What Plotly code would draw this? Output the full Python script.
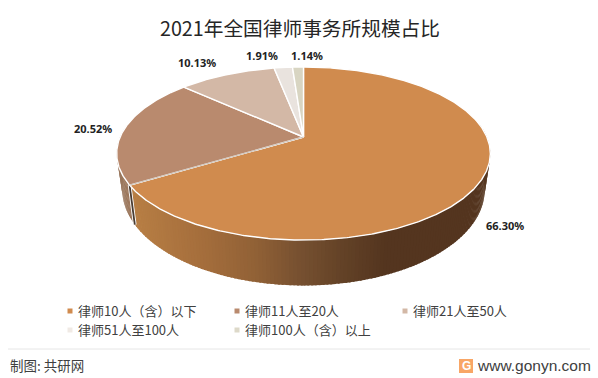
import numpy as np
import plotly.graph_objects as go

# ---- data ----
categories = ["律师10人（含）以下", "律师11人至20人", "律师21人至50人", "律师51人至100人", "律师100人（含）以上"]
shares = [66.30, 20.52, 10.13, 1.91, 1.14]
share_labels = ["66.30%", "20.52%", "10.13%", "1.91%", "1.14%"]

# ---- style ----
colors = ["#D08B4E", "#B98A6E", "#D3B8A6", "#E9E3DE", "#D8D5C2"]
legend_colors = ["#D08B4E", "#B98A6E", "#D3B8A6", "#F0EAE5", "#DDD9C9"]
label_pos = [(505, 225), (93, 128), (197, 62), (262, 55), (307, 55)]
legend_pos = [(70, 311), (237, 311), (405, 311), (70, 330), (237, 330)]
TEXT = "#404040"
CJK = "Noto Sans CJK SC"

# ---- projection of the tilted disc (perspective) ----
CX, Y0, A, B, K = 303.5, 137.0, 183.4, 83.4, 0.1907
S_BOT, Y0_BOT, B_BOT = 0.97, 171.3, 92.4


def top(theta):
    t = np.radians(theta)
    X, Y = np.sin(t), -np.cos(t)
    d = 1 - K * Y
    return CX + A * X / d, Y0 + B * Y / d


def bottom(theta):
    t = np.radians(theta)
    X, Y = np.sin(t), -np.cos(t)
    d = 1 - K * Y
    return CX + S_BOT * A * X / d, Y0_BOT + B_BOT * Y / d


def interp(x, stops):
    xs = [s[0] for s in stops]
    return tuple(int(round(np.interp(x, xs, [s[1][i] for s in stops]))) for i in range(3))


ORANGE_SIDE = [(133, (183, 126, 68)), (200, (165, 110, 60)), (255, (145, 97, 54)),
               (300, (118, 80, 48)), (345, (98, 65, 38)), (385, (84, 53, 31)), (490, (84, 53, 31))]
TAN_SIDE = [(118, (150, 116, 90)), (135, (164, 124, 94))]

total = sum(shares)
edges = np.concatenate([[0], np.cumsum(shares)]) / total * 360
fig = go.Figure()


def strip(a0, a1, a_over, stops):
    # a_over reaches past a1 so the next strip, painted later, closes any seam
    th = np.linspace(a0, a_over, 4)
    tx, ty = top(th)
    bx, by = bottom(th)
    r, g, b = interp((tx[0] + top(a1)[0]) / 2, stops)
    c = f"rgb({r},{g},{b})"
    fig.add_trace(go.Scatter(x=np.r_[tx, bx[::-1], tx[0]], y=np.r_[ty, by[::-1], ty[0]], mode="lines",
                             fill="toself", fillcolor=c, line=dict(width=0),
                             hoverinfo="skip", showlegend=False))


# side wall: back to front
b_edge = edges[1]
STEP = 1.0
for a in np.arange(280, b_edge, -STEP):
    end = max(a - STEP, b_edge)
    strip(a, end, max(end - 0.5, b_edge), TAN_SIDE)
for a in np.arange(80, 180, STEP):
    end = min(a + STEP, 180)
    strip(a - 0.5 if a > 80 else a, end, end, ORANGE_SIDE)
for a in np.arange(b_edge, 180, -STEP):
    end = max(a - STEP, 180)
    strip(a, end, end - 0.5, ORANGE_SIDE)

# cut between the first slice and the second
cx0, cy0 = top(b_edge)
cx1, cy1 = bottom(b_edge)
fig.add_trace(go.Scatter(x=[cx0, cx1], y=[cy0, cy1], mode="lines", line=dict(color="white", width=3.6),
                         hoverinfo="skip", showlegend=False))
fig.add_trace(go.Scatter(x=[cx0, cx1], y=[cy0, cy1], mode="lines", line=dict(color="#4A3C32", width=1.8),
                         hoverinfo="skip", showlegend=False))

# top face
for i, cat in enumerate(categories):
    th = np.linspace(edges[i], edges[i + 1], max(int(edges[i + 1] - edges[i]), 3) * 2)
    px, py = top(th)
    fig.add_trace(go.Scatter(x=np.r_[CX, px, CX], y=np.r_[Y0, py, Y0], mode="lines", fill="toself",
                             fillcolor=colors[i], line=dict(color="white", width=1.4),
                             name=cat, hoverinfo="skip", showlegend=False))

# fine seam on the top face between first and second slices
fig.add_trace(go.Scatter(x=[CX, cx0], y=[Y0, cy0], mode="lines", line=dict(color="#A89888", width=0.6),
                         hoverinfo="skip", showlegend=False))

# legend swatches
fig.add_trace(go.Scatter(x=[p[0] for p in legend_pos], y=[p[1] for p in legend_pos], mode="markers",
                         marker=dict(symbol="square", size=5, color=legend_colors),
                         hoverinfo="skip", showlegend=False))

ann = []
for t, (x, y) in zip(share_labels, label_pos):
    ann.append(dict(x=x, y=y, text=f"<b>{t}</b>", showarrow=False, xanchor="center", yanchor="middle",
                    font=dict(family="Noto Sans", size=11, color="#222222")))
for t, (x, y) in zip(categories, legend_pos):
    ann.append(dict(x=x + 6, y=y - 1, text=t, showarrow=False, xanchor="left", yanchor="middle",
                    font=dict(family=CJK, size=13, color=TEXT)))
ann.append(dict(x=299.5, y=27, text="2021年全国律师事务所规模占比", showarrow=False, xanchor="center", yanchor="middle",
                font=dict(family=CJK, size=19.7, color="#262626")))
ann.append(dict(x=8, y=365, text="制图: 共研网", showarrow=False, xanchor="left", yanchor="middle",
                font=dict(family=CJK, size=13.5, color=TEXT)))
ann.append(dict(x=593, y=365, text="www.gonyn.com", showarrow=False, xanchor="right", yanchor="middle",
                font=dict(family="Liberation Sans", size=15.5, color=TEXT)))
ann.append(dict(x=466, y=366, text="<b>G</b>", showarrow=False, xanchor="center", yanchor="middle",
                font=dict(family="Liberation Sans", size=12, color="white")))

shapes = [
    dict(type="line", x0=8, x1=590, y0=349, y1=349, line=dict(color="#E6E6E6", width=1)),
    dict(type="rect", x0=459, x1=473, y0=359, y1=373, fillcolor="#F8A666", line=dict(width=0), layer="below"),
]

fig.update_layout(
    width=598, height=378, margin=dict(l=0, r=0, t=0, b=0),
    paper_bgcolor="white", plot_bgcolor="white", showlegend=False,
    xaxis=dict(range=[0, 598], visible=False, fixedrange=True),
    yaxis=dict(range=[378, 0], visible=False, fixedrange=True),
    annotations=ann, shapes=shapes,
)
fig.write_html("out.html", config=dict(displayModeBar=False),
               post_script="document.body.style.margin='0';document.body.style.overflow='hidden';")
